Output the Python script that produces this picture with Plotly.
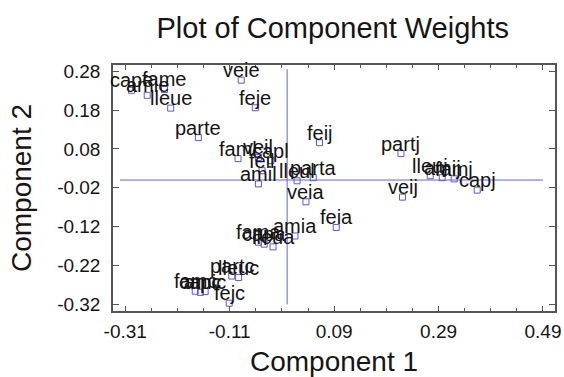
import plotly.graph_objects as go

# Component weights per variable (Component 1, Component 2)
labels = [
    "cape", "amie", "fame", "lleue", "veie", "feje", "parte",
    "faml", "veil", "capl", "feil", "amil", "lleul", "parta",
    "partj", "feij", "lleuj", "amij", "famj", "capj", "veij",
    "veia", "feia", "amia", "fama", "capa", "lleua",
    "famc", "amic", "capc", "partc", "lleuc", "fejc",
]
comp1 = [
    -0.298, -0.268, -0.235, -0.223, -0.088, -0.061, -0.170,
    -0.094, -0.055, -0.031, -0.048, -0.055, 0.019, 0.050,
    0.218, 0.062, 0.274, 0.297, 0.320, 0.364, 0.221,
    0.036, 0.094, 0.015, -0.055, -0.044, -0.027,
    -0.176, -0.157, -0.166, -0.106, -0.093, -0.111,
]
comp2 = [
    0.231, 0.218, 0.233, 0.185, 0.257, 0.186, 0.109,
    0.055, 0.058, 0.050, 0.024, -0.010, -0.002, 0.006,
    0.068, 0.096, 0.011, 0.006, 0.003, -0.026, -0.044,
    -0.056, -0.122, -0.144, -0.160, -0.165, -0.172,
    -0.286, -0.287, -0.289, -0.247, -0.251, -0.317,
]

x_ticks = [-0.31, -0.11, 0.09, 0.29, 0.49]
y_ticks = [0.28, 0.18, 0.08, -0.02, -0.12, -0.22, -0.32]

mark_color = "#5a5ad0"
line_color = "#6464d2"
frame_color = "#555555"
text_color = "#151515"
font_family = "Liberation Sans, Arial, sans-serif"

fig = go.Figure()

# Reference cross through the origin
fig.add_trace(go.Scatter(
    x=[0, 0, None, -0.32, 0.49], y=[-0.32, 0.285, None, 0, 0],
    mode="lines", line=dict(color=line_color, width=1),
    hoverinfo="skip", showlegend=False,
))

fig.add_trace(go.Scatter(
    x=comp1, y=comp2,
    mode="markers",
    marker=dict(symbol="square-open", size=6, color=mark_color,
                line=dict(width=1, color=mark_color)),
    cliponaxis=False,
    hoverinfo="skip",
    showlegend=False,
))

# Variable names sit just above their markers
for name, cx, cy in zip(labels, comp1, comp2):
    fig.add_annotation(
        x=cx, y=cy, text=name, showarrow=False,
        xanchor="center", yanchor="middle", yshift=10,
        font=dict(family=font_family, size=20, color=text_color),
    )

fig.update_layout(
    width=564, height=377,
    margin=dict(l=113, r=9, t=65, b=66),
    paper_bgcolor="white", plot_bgcolor="white",
    font=dict(family=font_family, color=text_color),
    title=dict(text="Plot of Component Weights", x=0.59, xanchor="center",
               y=0.925, yanchor="middle",
               font=dict(size=29, color=text_color)),
)
fig.update_xaxes(
    range=[-0.3335, 0.513], automargin=False,
    tickmode="array", tickvals=x_ticks,
    ticktext=[f"{v:.2f}" for v in x_ticks],
    ticks="inside", ticklen=5, tickcolor=frame_color,
    minor=dict(dtick=0.05, tick0=-0.31, ticks="inside", ticklen=3,
               tickcolor=frame_color, showgrid=False),
    showgrid=False, zeroline=False,
    showline=True, linecolor=frame_color, linewidth=1.5, mirror="ticks",
    tickfont=dict(size=19), ticklabelstandoff=2,
    title=dict(text="Component 1", font=dict(size=28), standoff=12),
)
fig.update_yaxes(
    range=[-0.337, 0.296], automargin=False,
    tickmode="array", tickvals=y_ticks,
    ticktext=[f"{v:.2f}" for v in y_ticks],
    ticks="inside", ticklen=6, tickcolor=frame_color,
    showgrid=False, zeroline=False,
    showline=True, linecolor=frame_color, linewidth=1.5, mirror="ticks",
    tickfont=dict(size=19), ticklabelstandoff=7,
    title=dict(text="Component 2", font=dict(size=28), standoff=17),
)

fig.write_html("out.html")
